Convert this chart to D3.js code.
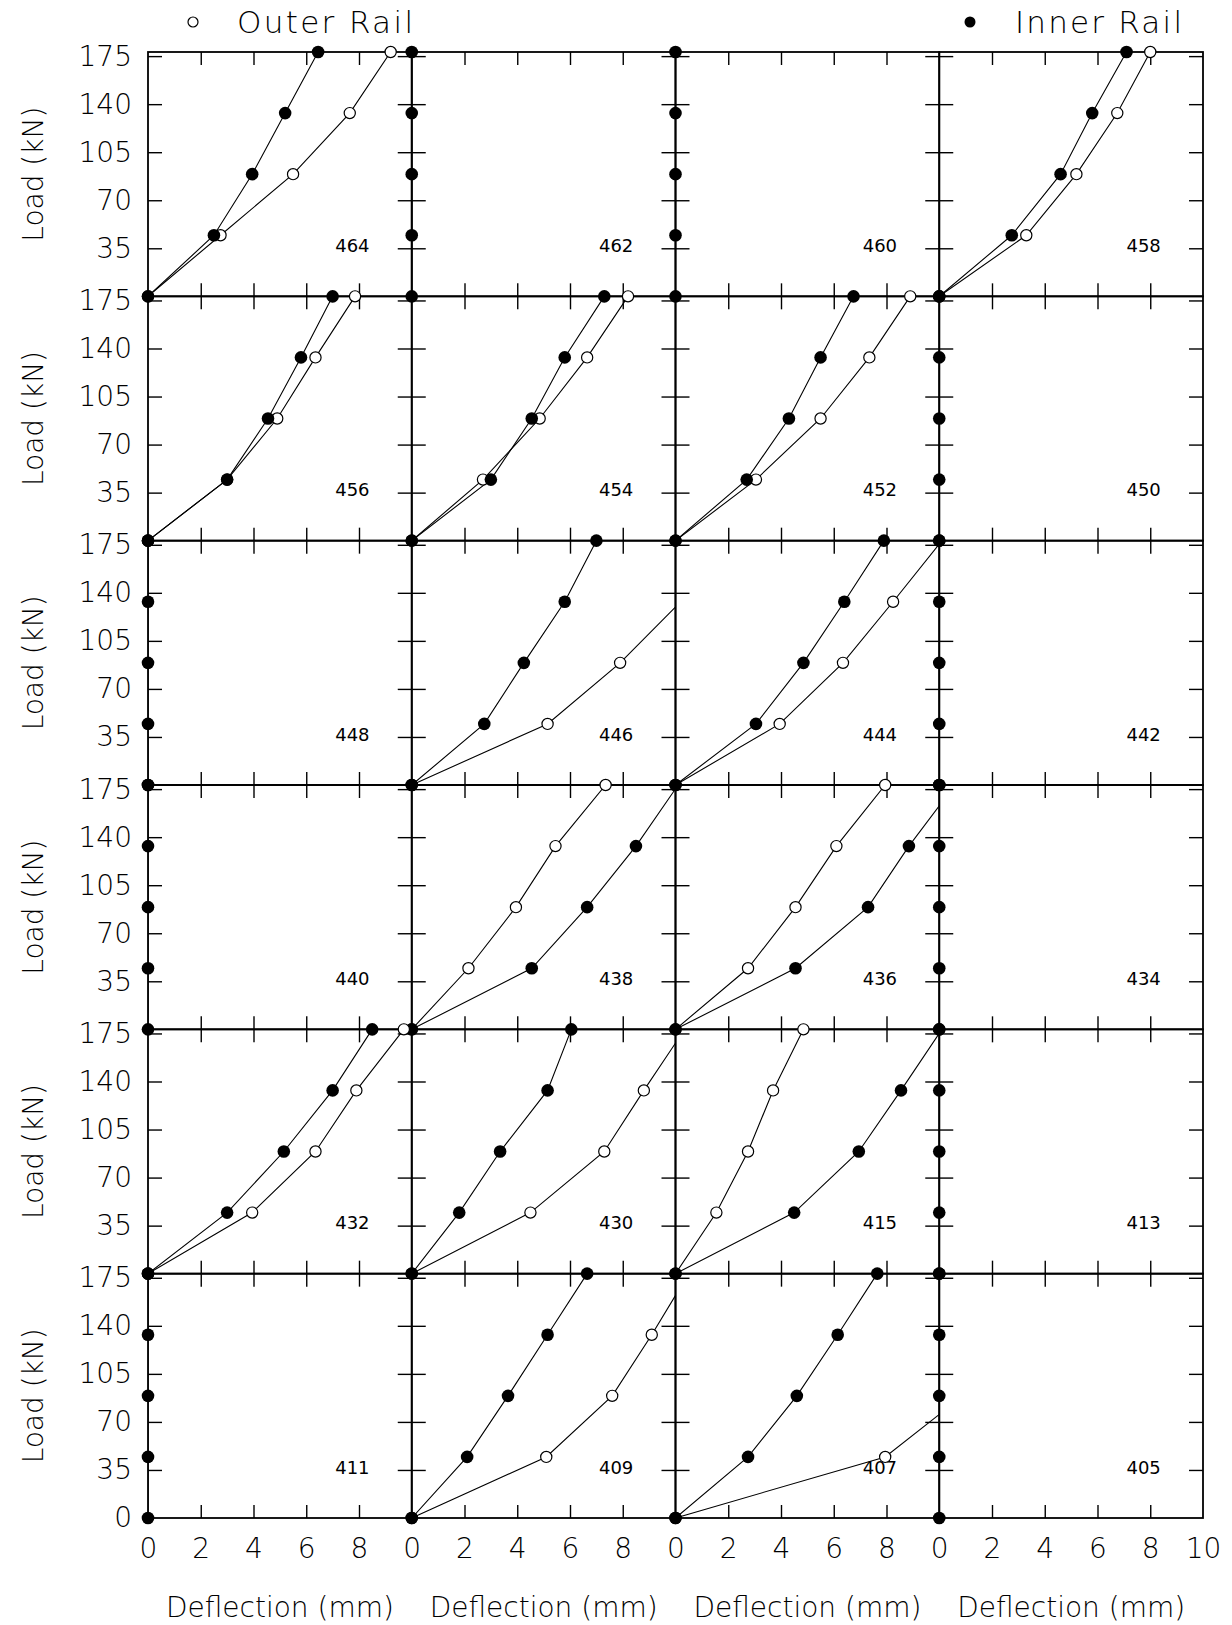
<!DOCTYPE html>
<html>
<head>
<meta charset="utf-8">
<style>
  body { margin: 0; background: #fff; }
  svg text { font-family: "DejaVu Sans", sans-serif; font-weight: 200; fill: #000; }
  svg text.section { font-weight: normal; }
</style>
</head>
<body>
<svg id="chart" width="1232" height="1625"></svg>
<script src="https://cdnjs.cloudflare.com/ajax/libs/d3/7.8.5/d3.min.js"></script>
<script>
    // section numbers, row by row (4 panels per row)
    var sections = ["464", "462", "460", "458",
                    "456", "454", "452", "450",
                    "448", "446", "444", "442",
                    "440", "438", "436", "434",
                    "432", "430", "415", "413",
                    "411", "409", "407", "405"];

    // load steps in kN (0, 10, 20, 30, 40 kips)
    var loads = [0, 44.5, 89, 133.5, 178];

    // inner rail deflection (mm) at each load step
    var inner = [
        [0, 2.5, 3.95, 5.2, 6.45],
        [0, 0, 0, 0, 0],
        [0, 0, 0, 0, 0],
        [0, 2.75, 4.6, 5.8, 7.1],
        [0, 3.0, 4.55, 5.8, 7.0],
        [0, 3.0, 4.55, 5.8, 7.3],
        [0, 2.7, 4.3, 5.5, 6.75],
        [0, 0, 0, 0, 0],
        [0, 0, 0, 0, 0],
        [0, 2.75, 4.25, 5.8, 7.0],
        [0, 3.05, 4.85, 6.4, 7.9],
        [0, 0, 0, 0, 0],
        [0, 0, 0, 0, 0],
        [0, 4.55, 6.65, 8.5, 10.1],
        [0, 4.55, 7.3, 8.85, 10.6],
        [0, 0, 0, 0, 0],
        [0, 3.0, 5.15, 7.0, 8.5],
        [0, 1.8, 3.35, 5.15, 6.05],
        [0, 4.5, 6.95, 8.55, 10.1],
        [0, 0, 0, 0, 0],
        [0, 0, 0, 0, 0],
        [0, 2.1, 3.65, 5.15, 6.65],
        [0, 2.75, 4.6, 6.15, 7.65],
        [0, 0, 0, 0, 0]
    ];

    // outer rail deflection (mm); null = not plotted
    var outer = [
        [0, 2.75, 5.5, 7.65, 9.2],
        null,
        null,
        [0, 3.3, 5.2, 6.75, 8.0],
        [0, 3.0, 4.9, 6.35, 7.85],
        [0, 2.7, 4.85, 6.65, 8.2],
        [0, 3.05, 5.5, 7.35, 8.9],
        null,
        null,
        [0, 5.15, 7.9, 10.2, 12.0],
        [0, 3.95, 6.35, 8.25, 10.1],
        null,
        null,
        [0, 2.15, 3.95, 5.45, 7.35],
        [0, 2.75, 4.55, 6.1, 7.95],
        null,
        [0, 3.95, 6.35, 7.9, 9.7],
        [0, 4.5, 7.3, 8.8, 10.35],
        [0, 1.55, 2.75, 3.7, 4.85],
        null,
        null,
        [0, 5.1, 7.6, 9.1, 10.5],
        [0, 7.95, 10.9, 13.0, 15.0],
        null
    ];

    var xTickValues = [0, 2, 4, 6, 8, 10];
    var yTickValues = [0, 35, 70, 105, 140, 175];

    var width = 1232,
        height = 1625,
        margin = {left: 148, top: 52, right: 1232 - 1203, bottom: 1625 - 1518},
        cols = 4, rows = 6,
        pw = (width - margin.left - margin.right) / cols,
        ph = (height - margin.top - margin.bottom) / rows,
        tick = 13;

    var svg = d3.select('#chart');
    svg.append('rect').attr('width', width).attr('height', height).attr('fill', '#fff');

    var x = d3.scaleLinear().domain([0, 10]).range([0, pw]);
    var y = d3.scaleLinear().domain([0, 178]).range([ph, 0]);

    var line = d3.line()
        .x(function (d) { return x(d[0]); })
        .y(function (d) { return y(d[1]); });

    svg.append('defs').append('clipPath').attr('id', 'panel-clip')
        .append('rect').attr('width', pw).attr('height', ph);

    function pairs(defl) {
        return defl.map(function (v, k) { return [v, loads[k]]; });
    }

    function styleAxis(sel) {
        sel.select('.domain').remove();
        sel.selectAll('line').attr('stroke', '#000').attr('stroke-width', 1.4);
        sel.attr('font-family', null).attr('font-size', null);
    }

    var inner_ticks = xTickValues.slice(1, 5),
        inner_yticks = yTickValues.slice(1);

    sections.forEach(function (name, i) {
        var col = i % cols, row = Math.floor(i / cols);
        var g = svg.append('g')
            .attr('transform', 'translate(' + (margin.left + col * pw) + ',' + (margin.top + row * ph) + ')');

        // inward ticks on all four sides
        g.append('g').call(d3.axisTop(x).tickValues(inner_ticks).tickSizeInner(-tick).tickSizeOuter(0).tickFormat('')).call(styleAxis);
        g.append('g').attr('transform', 'translate(0,' + ph + ')')
            .call(d3.axisBottom(x).tickValues(inner_ticks).tickSizeInner(-tick).tickSizeOuter(0).tickFormat('')).call(styleAxis);
        g.append('g').call(d3.axisLeft(y).tickValues(inner_yticks).tickSizeInner(-tick - 1).tickSizeOuter(0).tickFormat('')).call(styleAxis);
        g.append('g').attr('transform', 'translate(' + pw + ',0)')
            .call(d3.axisRight(y).tickValues(inner_yticks).tickSizeInner(-tick - 1).tickSizeOuter(0).tickFormat('')).call(styleAxis);

        g.append('rect')
            .attr('width', pw).attr('height', ph)
            .attr('fill', 'none').attr('stroke', '#000').attr('stroke-width', 1.8);

        // section number
        g.append('text').attr('class', 'section')
            .attr('x', x(7.75)).attr('y', y(37))
            .attr('text-anchor', 'middle').attr('dominant-baseline', 'central')
            .attr('font-size', 18)
            .text(name);

        var lines = g.append('g').attr('clip-path', 'url(#panel-clip)');
        if (outer[i]) {
            lines.append('path').datum(pairs(outer[i]))
                .attr('d', line).attr('fill', 'none').attr('stroke', '#000').attr('stroke-width', 1.1);
        }
        lines.append('path').datum(pairs(inner[i]))
            .attr('d', line).attr('fill', 'none').attr('stroke', '#000').attr('stroke-width', 1.1);

        if (outer[i]) {
            g.selectAll('.outer').data(pairs(outer[i]).filter(function (d) { return d[0] <= 10; }))
                .enter().append('circle').attr('class', 'outer')
                .attr('cx', function (d) { return x(d[0]); })
                .attr('cy', function (d) { return y(d[1]); })
                .attr('r', 5.6).attr('fill', '#fff').attr('stroke', '#000').attr('stroke-width', 1.2);
        }
        g.selectAll('.inner').data(pairs(inner[i]).filter(function (d) { return d[0] <= 10; }))
            .enter().append('circle').attr('class', 'inner')
            .attr('cx', function (d) { return x(d[0]); })
            .attr('cy', function (d) { return y(d[1]); })
            .attr('r', 6.3).attr('fill', '#000');

        // y tick labels and title on the first column
        if (col === 0) {
            var yl = g.append('g')
                .call(d3.axisLeft(y).tickValues(row === rows - 1 ? yTickValues : inner_yticks)
                    .tickSize(0).tickPadding(16));
            yl.select('.domain').remove();
            yl.attr('font-family', null).attr('font-size', 28);

            g.append('text')
                .attr('transform', 'translate(' + (33 - margin.left) + ',' + (ph / 2) + ') rotate(-90)')
                .attr('text-anchor', 'middle').attr('dominant-baseline', 'central')
                .attr('font-size', 28)
                .text('Load (kN)');
        }

        // x tick labels and title on the last row
        if (row === rows - 1) {
            var xl = g.append('g').attr('transform', 'translate(0,' + ph + ')')
                .call(d3.axisBottom(x).tickValues(col === cols - 1 ? xTickValues : xTickValues.slice(0, 5))
                    .tickSize(0).tickPadding(20));
            xl.select('.domain').remove();
            xl.attr('font-family', null).attr('font-size', 28);

            g.append('text')
                .attr('x', pw / 2).attr('y', ph + 99)
                .attr('text-anchor', 'middle')
                .attr('font-size', 28)
                .text('Deflection (mm)');
        }
    });

    // legend
    var legend = svg.append('g');
    legend.append('circle').attr('cx', 193).attr('cy', 22).attr('r', 5)
        .attr('fill', '#fff').attr('stroke', '#000').attr('stroke-width', 1.2);
    legend.append('text').attr('x', 237).attr('y', 33).attr('font-size', 31)
        .attr('textLength', 176).attr('lengthAdjust', 'spacing').text('Outer Rail');
    legend.append('circle').attr('cx', 970).attr('cy', 22).attr('r', 5.5).attr('fill', '#000');
    legend.append('text').attr('x', 1015).attr('y', 33).attr('font-size', 31)
        .attr('textLength', 167).attr('lengthAdjust', 'spacing').text('Inner Rail');
</script>
</body>
</html>
